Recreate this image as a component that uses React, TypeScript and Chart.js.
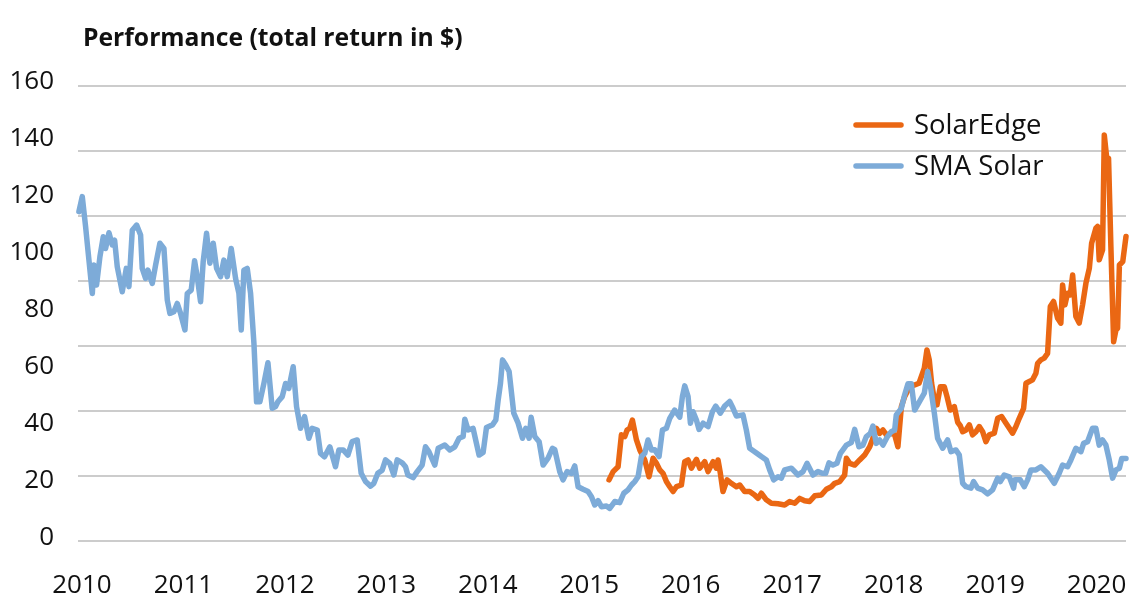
import { useEffect, useRef } from 'react';
import { Chart, registerables } from 'chart.js';

Chart.register(...registerables);

const FONT = '"Open Sans", Lato, "DejaVu Sans", sans-serif';

const titleText = 'Performance (total return in $)';
const seriesNames = ['SolarEdge', 'SMA Solar'];
const seriesColors = ['#EA6713', '#7DABD8'];
const yearTicks = [2010, 2011, 2012, 2013, 2014, 2015, 2016, 2017, 2018, 2019, 2020];
const valueTicks = [0, 20, 40, 60, 80, 100, 120, 140, 160];
const gridTicks = [0, 20, 40, 60, 80, 100, 120, 140];

// SMA Solar (decimal year, value)
const smaDates = [
  2009.970, 2010.003, 2010.036, 2010.059, 2010.102, 2010.118, 2010.144, 2010.177, 2010.210, 2010.233,
  2010.266, 2010.299, 2010.322, 2010.348, 2010.397, 2010.437, 2010.463, 2010.496, 2010.539, 2010.578,
  2010.594, 2010.627, 2010.650, 2010.693, 2010.726, 2010.768, 2010.808, 2010.841, 2010.867, 2010.906,
  2010.939, 2010.972, 2011.015, 2011.038, 2011.077, 2011.110, 2011.136, 2011.169, 2011.195, 2011.228,
  2011.261, 2011.294, 2011.327, 2011.366, 2011.399, 2011.432, 2011.471, 2011.514, 2011.547, 2011.570,
  2011.596, 2011.629, 2011.662, 2011.695, 2011.721, 2011.754, 2011.793, 2011.833, 2011.875, 2011.908,
  2011.931, 2011.974, 2012.007, 2012.039, 2012.082, 2012.115, 2012.154, 2012.194, 2012.236, 2012.269,
  2012.319, 2012.351, 2012.391, 2012.443, 2012.499, 2012.532, 2012.575, 2012.621, 2012.663, 2012.713,
  2012.752, 2012.795, 2012.844, 2012.877, 2012.916, 2012.959, 2012.992, 2013.034, 2013.074, 2013.107,
  2013.156, 2013.189, 2013.212, 2013.264, 2013.304, 2013.353, 2013.386, 2013.419, 2013.478, 2013.511,
  2013.576, 2013.626, 2013.675, 2013.717, 2013.757, 2013.773, 2013.806, 2013.855, 2013.888, 2013.914,
  2013.954, 2013.987, 2014.046, 2014.079, 2014.102, 2014.125, 2014.145, 2014.177, 2014.210, 2014.256,
  2014.299, 2014.342, 2014.374, 2014.407, 2014.427, 2014.463, 2014.506, 2014.545, 2014.594, 2014.637,
  2014.660, 2014.709, 2014.742, 2014.781, 2014.825, 2014.857, 2014.890, 2014.939, 2014.988, 2015.022,
  2015.054, 2015.087, 2015.120, 2015.169, 2015.202, 2015.251, 2015.300, 2015.340, 2015.382, 2015.416,
  2015.448, 2015.481, 2015.514, 2015.547, 2015.579, 2015.613, 2015.645, 2015.688, 2015.721, 2015.760,
  2015.793, 2015.842, 2015.892, 2015.918, 2015.941, 2015.974, 2015.997, 2016.023, 2016.056, 2016.082,
  2016.122, 2016.171, 2016.214, 2016.246, 2016.292, 2016.335, 2016.384, 2016.417, 2016.450, 2016.515,
  2016.548, 2016.581, 2016.630, 2016.696, 2016.745, 2016.778, 2016.818, 2016.860, 2016.893, 2016.926,
  2016.992, 2017.057, 2017.107, 2017.146, 2017.205, 2017.254, 2017.297, 2017.330, 2017.363, 2017.402,
  2017.441, 2017.475, 2017.534, 2017.583, 2017.616, 2017.658, 2017.698, 2017.731, 2017.770, 2017.796,
  2017.829, 2017.862, 2017.895, 2017.934, 2017.977, 2018.010, 2018.026, 2018.076, 2018.108, 2018.141,
  2018.174, 2018.207, 2018.253, 2018.302, 2018.335, 2018.368, 2018.401, 2018.433, 2018.483, 2018.532,
  2018.565, 2018.614, 2018.647, 2018.680, 2018.713, 2018.762, 2018.788, 2018.828, 2018.877, 2018.926,
  2018.975, 2019.025, 2019.051, 2019.090, 2019.140, 2019.182, 2019.195, 2019.248, 2019.287, 2019.320,
  2019.353, 2019.402, 2019.451, 2019.517, 2019.583, 2019.632, 2019.665, 2019.714, 2019.747, 2019.796,
  2019.846, 2019.872, 2019.911, 2019.960, 2019.993, 2020.026, 2020.059, 2020.092, 2020.125, 2020.158,
  2020.191, 2020.225, 2020.248, 2020.290,
];
const smaValues = [
  114.5, 119.8, 109.2, 101, 85.8, 95.8, 88.8, 98.7, 105.7, 101.6,
  107.1, 102.8, 104.5, 95.2, 86.4, 94.6, 88.2, 108, 109.8, 106.3,
  94.6, 91.1, 94, 89.3, 95.8, 103.4, 101.6, 83.5, 78.8, 79.4,
  82.3, 78.8, 73, 85.8, 87, 97.3, 91.7, 82.9, 97, 106.9,
  96.4, 103.4, 94.6, 91.7, 97.5, 91.7, 101.6, 91.1, 85.8, 73,
  94, 94.6, 85.8, 68.3, 47.8, 47.8, 54.2, 61.5, 45.5, 46.1,
  47.8, 49.6, 54.2, 52.5, 60.1, 46.1, 38.5, 42.6, 35, 38.5,
  37.9, 29.7, 28.5, 32, 25, 30.9, 30.9, 29.1, 33.8, 34.4,
  22.7, 19.8, 18.2, 19.2, 22.7, 23.8, 27.4, 26.2, 22.1, 27.4,
  26.4, 25, 22.1, 21.2, 23.3, 25.6, 32, 30.3, 25.6, 31.5,
  32.6, 30.9, 32, 35, 35.6, 41.7, 37.9, 38.5, 33.2, 29.1,
  30, 38.8, 39.7, 41.4, 48.4, 54.3, 62.5, 60.7, 58.4, 43.8,
  40.3, 35, 38.5, 35, 42.4, 35.6, 33.8, 25.6, 28, 31.5,
  31, 23.3, 20.4, 23.3, 22.7, 25.3, 18, 17.1, 16.3, 14.5,
  11.6, 13.1, 11, 11.2, 10.4, 12.8, 12.4, 15.7, 16.9, 18.6,
  19.8, 21.5, 28.6, 29.7, 34.4, 30.9, 31, 28.6, 37.9, 38.5,
  42, 44.9, 42.4, 49.6, 53.4, 49.6, 40.3, 44.3, 41.4, 38.1,
  40.3, 39.1, 44.3, 46.3, 43.8, 46.3, 47.9, 45.5, 42.8, 43.2,
  37.9, 31.5, 30.3, 28.6, 27.4, 23.9, 20.4, 21.5, 21, 23.9,
  24.5, 22.1, 23.3, 26.2, 22.1, 23.3, 22.7, 22.7, 26.4, 25.6,
  26.2, 29.7, 32.6, 33.5, 38.1, 32, 32.6, 35.6, 36.7, 39.3,
  33.2, 34.4, 32.6, 35.3, 37.3, 37.9, 43.2, 45.5, 50.2, 54.1,
  54.1, 44.9, 47.8, 50.8, 58.4, 52, 43.8, 35, 31.5, 34.4,
  30.3, 30.9, 29.1, 19.2, 18, 17.5, 19.8, 17.5, 16.9, 15.5,
  16.9, 21, 19.8, 22.1, 21.5, 17.5, 20.4, 20.4, 18, 20.4,
  23.9, 23.9, 25, 22.7, 19.2, 22.7, 25.6, 25, 27.4, 31.5,
  30.3, 33.2, 33.8, 38.5, 38.5, 32.6, 34.4, 32.6, 27.4, 21,
  23.9, 24.5, 27.9, 27.9,
];

// SolarEdge (decimal year, value)
const edgeDates = [
  2015.195, 2015.235, 2015.284, 2015.317, 2015.350, 2015.373, 2015.399, 2015.425, 2015.465, 2015.498,
  2015.547, 2015.589, 2015.629, 2015.662, 2015.695, 2015.727, 2015.760, 2015.793, 2015.826, 2015.859,
  2015.908, 2015.941, 2015.974, 2016.007, 2016.056, 2016.089, 2016.138, 2016.171, 2016.220, 2016.253,
  2016.269, 2016.292, 2016.318, 2016.358, 2016.400, 2016.450, 2016.483, 2016.532, 2016.581, 2016.630,
  2016.663, 2016.696, 2016.745, 2016.794, 2016.860, 2016.926, 2016.975, 2017.025, 2017.074, 2017.123,
  2017.172, 2017.222, 2017.287, 2017.337, 2017.386, 2017.419, 2017.468, 2017.517, 2017.534, 2017.567,
  2017.616, 2017.665, 2017.714, 2017.764, 2017.796, 2017.829, 2017.862, 2017.895, 2017.928, 2017.977,
  2018.010, 2018.042, 2018.076, 2018.108, 2018.158, 2018.207, 2018.250, 2018.302, 2018.328, 2018.351,
  2018.374, 2018.401, 2018.427, 2018.460, 2018.499, 2018.526, 2018.558, 2018.598, 2018.631, 2018.657,
  2018.680, 2018.713, 2018.746, 2018.778, 2018.811, 2018.844, 2018.877, 2018.909, 2018.943, 2018.992,
  2019.025, 2019.064, 2019.107, 2019.140, 2019.172, 2019.205, 2019.238, 2019.281, 2019.304, 2019.337,
  2019.369, 2019.402, 2019.419, 2019.451, 2019.484, 2019.517, 2019.544, 2019.576, 2019.616, 2019.648,
  2019.665, 2019.688, 2019.714, 2019.741, 2019.764, 2019.796, 2019.829, 2019.862, 2019.895, 2019.929,
  2019.951, 2019.993, 2020.010, 2020.026, 2020.059, 2020.076, 2020.102, 2020.118, 2020.141, 2020.168,
  2020.191, 2020.207, 2020.225, 2020.258, 2020.290,
];
const edgeValues = [
  20.4, 23.3, 25, 36.2, 35.6, 37.9, 38.5, 41.4, 34.4, 30.9,
  27.4, 21.5, 28, 26.2, 23.9, 22.7, 19.8, 18, 16.3, 18,
  18.6, 26.8, 27.4, 24.5, 27.6, 24.5, 26.8, 23.3, 26.8, 24.5,
  27.4, 22.7, 16.3, 20.4, 19.2, 18, 18.6, 16.3, 16.3, 15.1,
  13.9, 15.7, 13.4, 12.2, 12, 11.6, 12.8, 12.2, 13.9, 13.1,
  12.8, 14.8, 15.1, 17.1, 18, 19.2, 19.8, 22.1, 28, 26.2,
  25.6, 27.4, 29.1, 32, 35, 38.5, 36.7, 37.9, 36.2, 36.7,
  36.2, 32, 46.1, 49.6, 53.1, 53.7, 54.3, 59.6, 66, 62.5,
  54.3, 48.5, 46.7, 53.1, 53.1, 49.6, 44.9, 46.1, 40.6, 39.4,
  37.3, 37.9, 39.7, 36.2, 37.3, 39.1, 37.3, 33.8, 36.2, 36.8,
  42, 42.6, 40.3, 38.5, 36.8, 39.1, 42, 45.5, 54.3, 54.9,
  55.5, 57.8, 61.3, 62.5, 63.1, 64.8, 81.2, 83, 77.1, 75.4,
  88.8, 81.8, 85.9, 85.3, 92.3, 77.7, 75.4, 81.8, 89.4, 94.7,
  103.4, 108.7, 109.3, 97.6, 101.1, 141.4, 132.7, 133.2, 102.3, 68.9,
  73, 73.6, 95.8, 97, 105.8,
];

const toPoints = (xs: number[], ys: number[]) => xs.map((x, i) => ({ x, y: ys[i] }));
const setTicks = (values: number[]) => (scale: any) => {
  scale.ticks = values.map((value) => ({ value }));
};

const cornerTitle = {
  id: 'cornerTitle',
  afterDraw(chart: any) {
    const { ctx, chartArea } = chart;
    ctx.save();
    ctx.font = `bold 24.7px ${FONT}`;
    ctx.fillStyle = '#111111';
    ctx.textAlign = 'left';
    ctx.textBaseline = 'alphabetic';
    ctx.fillText(titleText, chartArea.left + 5, 46);
    ctx.restore();
  },
};

const innerLegend = {
  id: 'innerLegend',
  afterDraw(chart: any) {
    const { ctx, chartArea } = chart;
    ctx.save();
    chart.data.datasets.forEach((ds: any, i: number) => {
      const y = chartArea.top + 43 + i * 41;
      ctx.strokeStyle = ds.borderColor;
      ctx.lineWidth = 5.5;
      ctx.lineCap = 'round';
      ctx.beginPath();
      ctx.moveTo(chartArea.right - 270, y);
      ctx.lineTo(chartArea.right - 225, y);
      ctx.stroke();
      ctx.font = `27.5px ${FONT}`;
      ctx.fillStyle = '#111111';
      ctx.textAlign = 'left';
      ctx.textBaseline = 'middle';
      ctx.fillText(ds.label, chartArea.right - 212, y + 1);
    });
    ctx.restore();
  },
};

export default function App() {
  const canvasRef = useRef<HTMLCanvasElement>(null);

  useEffect(() => {
    if (!canvasRef.current) return;
    const tickFont = { family: FONT, size: 26 };
    const chart = new Chart(canvasRef.current, {
      type: 'line',
      data: {
        datasets: [
          {
            label: seriesNames[0],
            data: toPoints(edgeDates, edgeValues),
            borderColor: seriesColors[0],
            backgroundColor: seriesColors[0],
            borderWidth: 5.5,
            pointRadius: 0,
            tension: 0,
            borderJoinStyle: 'round',
            borderCapStyle: 'round',
            clip: false,
            order: 1,
            yAxisID: 'y',
          },
          {
            label: seriesNames[1],
            data: toPoints(smaDates, smaValues),
            borderColor: seriesColors[1],
            backgroundColor: seriesColors[1],
            borderWidth: 5.5,
            pointRadius: 0,
            tension: 0,
            borderJoinStyle: 'round',
            borderCapStyle: 'round',
            clip: false,
            order: 0,
            yAxisID: 'y',
          },
        ],
      },
      options: {
        animation: false,
        responsive: true,
        maintainAspectRatio: false,
        layout: { padding: { top: 82, right: 18, left: 0, bottom: 0 } },
        plugins: {
          legend: { display: false },
          tooltip: { enabled: false },
          title: { display: false },
        },
        scales: {
          x: {
            type: 'linear',
            min: 2009.961,
            max: 2020.29,
            afterBuildTicks: setTicks(yearTicks),
            afterFit: (s: any) => {
              s.height = 74;
              s.paddingLeft = 0;
              s.paddingRight = 0;
            },
            grid: { display: false, drawTicks: false },
            border: { display: false },
            ticks: {
              font: tickFont,
              color: '#111111',
              padding: 29,
              maxRotation: 0,
              autoSkip: false,
              callback: (v: any) => String(v),
            },
          },
          y: {
            type: 'linear',
            position: 'left',
            min: -1.05,
            max: 160,
            afterBuildTicks: setTicks(valueTicks),
            afterFit: (s: any) => {
              s.width = 78;
              s.paddingTop = 0;
              s.paddingBottom = 0;
            },
            grid: { display: false, drawTicks: false },
            border: { display: false },
            ticks: {
              font: tickFont,
              color: '#111111',
              padding: 24,
              autoSkip: false,
              callback: (v: any) => String(v),
            },
          },
          yGrid: {
            type: 'linear',
            position: 'right',
            min: 0,
            max: 141.23,
            afterBuildTicks: setTicks(gridTicks),
            afterFit: (s: any) => {
              s.width = 0;
            },
            grid: { color: '#cccccc', lineWidth: 2, drawTicks: false },
            border: { display: false },
            ticks: { display: false },
          },
        },
      } as any,
      plugins: [cornerTitle, innerLegend],
    });
    return () => chart.destroy();
  }, []);

  return (
    <div style={{ position: 'fixed', left: 0, top: 0, width: 1144, height: 615, background: '#ffffff' }}>
      <canvas ref={canvasRef} />
    </div>
  );
}
